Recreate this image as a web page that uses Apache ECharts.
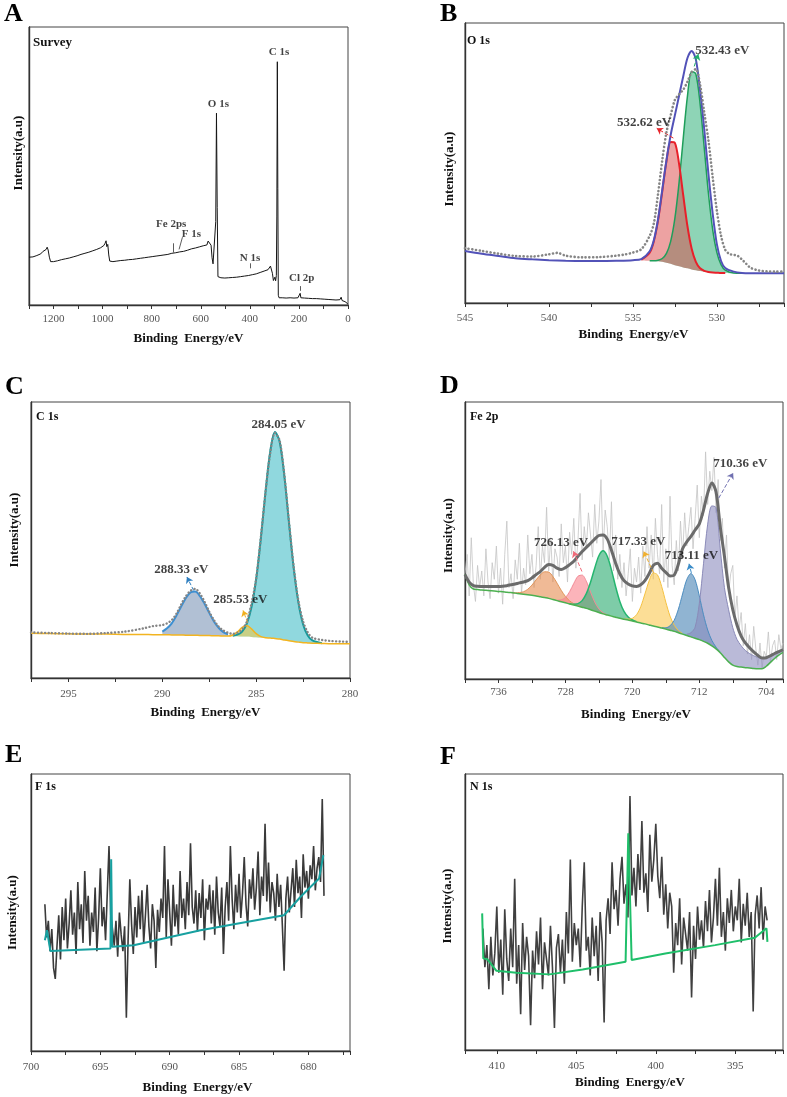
<!DOCTYPE html>
<html>
<head>
<meta charset="utf-8">
<title>XPS spectra</title>
<script src="https://cdn.jsdelivr.net/npm/echarts@6.0.0/dist/echarts.min.js"></script>
<style>
html,body{margin:0;padding:0;background:#ffffff;}
#chart{width:787px;height:1097px;}
</style>
</head>
<body>
<div id="chart"></div>
<script>
// ================= DATA =================
// ---- Panel A : survey (binding energy eV, intensity) ----
const surveyPts = [[1300,17.2],[1292,17.6],[1284,17.3],[1276,18.0],[1268,17.8],[1260,18.5],[1252,18.4],[1244,19.2],[1236,19.5],[1230,20.0],[1226,20.8],[1222,19.8],[1217,17.2],[1212,15.6],[1206,15.0],[1200,15.6],[1192,15.3],[1184,15.9],[1176,15.7],[1168,16.3],[1160,16.1],[1152,16.6],[1144,16.5],[1136,16.9],[1128,17.0],[1120,17.3],[1112,17.2],[1104,17.7],[1096,17.8],[1088,18.2],[1080,18.1],[1072,18.6],[1064,18.7],[1056,19.0],[1048,19.1],[1040,19.5],[1032,19.6],[1024,20.0],[1016,20.2],[1008,20.6],[1000,20.9],[995,21.4],[990,22.2],[986,23.1],[983,21.0],[979,21.8],[975,18.0],[971,15.8],[966,15.3],[958,15.6],[950,15.4],[942,15.8],[934,15.6],[926,16.0],[918,15.8],[910,16.1],[902,16.0],[894,16.3],[886,16.1],[878,16.4],[870,16.3],[862,16.6],[854,16.5],[846,16.8],[838,16.7],[830,17.0],[822,16.9],[814,17.2],[806,17.1],[798,17.4],[790,17.3],[782,17.6],[774,17.5],[766,17.8],[758,17.7],[750,18.0],[742,17.9],[734,18.2],[726,18.3],[718,18.6],[710,18.5],[702,18.8],[694,18.7],[686,19.1],[678,19.0],[670,19.3],[662,19.4],[654,19.7],[646,19.9],[638,20.2],[630,20.1],[622,20.5],[614,20.6],[606,20.9],[598,20.8],[590,21.3],[582,21.1],[575,21.6],[570,23.0],[566,22.4],[562,23.6],[558,21.5],[554,17.0],[550,14.8],[546,14.2],[542,14.6],[539,30],[536,69],[533,35],[530,10.2],[525,9.6],[518,9.8],[510,9.4],[502,9.7],[494,9.5],[486,9.8],[478,9.6],[470,9.9],[462,9.7],[454,10.0],[446,9.9],[438,10.2],[430,10.1],[422,10.4],[414,10.3],[406,10.6],[398,10.6],[390,10.9],[382,11.0],[374,11.2],[366,11.4],[358,11.7],[350,11.9],[342,12.2],[334,12.4],[326,12.7],[320,13.2],[316,14.0],[312,13.6],[308,11.4],[304,8.8],[301,8.2],[298,10.0],[295,8.7],[292,10.6],[290,32],[288,87.5],[286,42],[284,3.5],[281,2.6],[275,2.4],[268,2.6],[260,2.3],[252,2.5],[244,2.4],[236,2.6],[228,2.3],[220,2.5],[212,2.4],[204,2.6],[198,3.0],[195,4.2],[192,2.6],[185,2.4],[177,2.5],[169,2.3],[161,2.4],[153,2.2],[145,2.3],[137,2.1],[129,2.3],[121,2.1],[113,2.2],[105,2.0],[97,2.1],[89,1.9],[81,2.0],[73,1.8],[65,1.9],[57,1.7],[49,1.8],[41,1.6],[33,1.9],[28,2.8],[24,1.6],[18,1.9],[12,1.2],[7,0.9],[3,0.6],[0,0.3]];
const surveyMarks = [['O 1s',528.2,72.3],['C 1s',280.9,91],['Fe 2ps',720.4,29.1],['F 1s',638.6,25.5],['N 1s',399.4,16.9],['Cl 2p',188.9,9.7]];
const surveyPointers = [[713,18.9,713,22.2],[688.4,20.0,674.6,24.4],[399.4,13.2,399.4,15.0],[195,5.1,195,6.8]];

// ---- Panel B : O 1s ----
const bX = [545,544,543,542,541,540,539,538,537,536,535,534.5,534,533.75,533.5,533.25,533,532.75,532.5,532.25,532,531.75,531.5,531.25,531,530.75,530.5,530.25,530,529.75,529.5,529,528.5,528,527,526];
const bBase = [18.6,17.6,16.8,16.0,15.6,15.3,15.1,15.0,15.0,15.0,15.1,15.2,15.1,15.0,14.9,14.7,14.4,14.0,13.5,13.1,12.7,12.4,12.0,11.7,11.4,11.2,11.0,10.9,10.8,10.7,10.7,10.6,10.6,10.6,10.6,10.6];
const bRed = [null,null,null,null,null,null,null,null,null,null,null,0.3,2.9,7.1,14.7,25.2,36.3,43.5,43.7,36.6,25.7,15.0,7.4,3.0,1.0,0.3,0.1,0,0,0,0,null,null,null,null,null];
const bGreen = [null,null,null,null,null,null,null,null,null,null,null,null,0,0.1,0.4,1.2,3.3,8.0,16.7,29.9,46.2,61.5,70.7,70.1,59.9,44.2,28.1,15.4,7.3,3.0,1.0,0.1,0,null,null,null];
const bEnv = [18.6,17.6,16.8,16.0,15.6,15.3,15.1,15.0,15.0,15.1,15.3,15.7,18.5,22.5,30,40.5,51,60,67,74,81,87.5,90,87,76,62,46,32,21,15,12.5,11.2,10.7,10.6,10.6,10.6];
const bRawX = [545,544,543,542,541,540,539.5,539,538,537,536,535.5,535,534.5,534,533.75,533.5,533.25,533,532.75,532.5,532.25,532,531.75,531.5,531.25,531,530.75,530.5,530.25,530,529.75,529.5,529.25,529,528.75,528.5,528.25,528,527.5,527,526.5,526];
const bRaw = [19.6,18.6,17.6,16.8,16.6,17.4,17.9,16.9,16.3,16.4,16.9,17.3,18.0,19.2,24.0,28.5,39,51,61,67,72.5,74.5,76.2,79,82.5,83.5,78,68,58,45,33,24,19,17.5,17.2,16.8,15.5,14.0,12.6,11.6,11.3,11.2,11.2];
const bLabels = [['532.43 eV',529.68,90.1],['532.62 eV',534.33,64.4]];
const bArrows = [[531.35,84.5,531.1,88.9,'#1fae6a'],[532.59,58.9,533.58,62.4,'#e8262c']];

// ---- Panel C : C 1s ----
const cX = [297,296,295,294,293,292,291,290.5,290,289.75,289.5,289.25,289,288.75,288.5,288.25,288,287.75,287.5,287.25,287,286.75,286.5,286.25,286,285.75,285.5,285.25,285,284.75,284.5,284.25,284,283.75,283.5,283.25,283,282.75,282.5,282.25,282,281.5,281,280.5,280];
const cBase = [16.2,16.1,16.0,15.9,15.9,15.8,15.8,15.7,15.7,15.7,15.6,15.6,15.6,15.5,15.5,15.5,15.4,15.4,15.4,15.3,15.3,15.2,15.2,15.1,15.1,15.0,15.0,14.9,14.8,14.7,14.6,14.5,14.3,14.1,13.8,13.5,13.2,13.0,12.8,12.7,12.6,12.5,12.4,12.4,12.4];
const cBlue = [null,null,null,null,null,null,null,null,1.1,2.3,4.2,7.0,10.3,13.4,15.5,15.8,14.3,11.5,8.2,5.2,2.9,1.4,0.6,null,null,null,null,null,null,null,null,null,null,null,null,null,null,null,null,null,null,null,null,null,null];
const cTeal = [null,null,null,null,null,null,null,null,null,null,null,null,null,null,null,null,null,null,null,null,null,null,null,0.2,0.6,1.8,4.7,10.8,21.1,36.0,53.0,67.6,74.8,71.6,59.5,42.7,26.6,14.4,6.7,2.7,1.0,0.1,null,null,null];
const cYellow = [0,0,0,0,0,0,0,0,0,0,0,0,0,0,0,0,0,0,0,0,0,0,0,0.5,1.6,3.3,4.0,2.9,1.3,0.3,0,0,0,0,0,0,0,0,0,0,0,0,0,0,0];
const cRaw = [16.5,16.3,16.1,16.0,16.3,16.8,18.0,18.8,19.2,19.8,21.0,23.3,26.6,29.6,31.6,32.3,30.6,27.6,24.0,21.0,18.6,17.2,16.4,16.0,16.4,17.6,20.4,27.0,36.0,51.0,67.5,81.5,88.8,86.0,73.6,56.5,40.2,28.0,20.5,16.5,14.6,13.8,13.4,13.2,13.1];
const cLabels = [['284.05 eV',283.81,91.8],['288.33 eV',288.99,39.2],['285.53 eV',285.84,28.4]];
const cArrows = [[288.33,31.7,288.69,36.6,'#2f7fc0'],[285.45,19.9,285.7,24.5,'#f0b020']];

// ---- Panel D : Fe 2p (0.5 eV grid starting at 740 eV) ----
const dStart = 740, dStep = 0.5;
const dBase = [37.7,34.0,32.5,32.3,32.1,32.0,31.9,31.8,31.6,31.5,31.3,31.2,31.0,30.8,30.6,30.4,30.2,30.0,29.7,29.4,29.1,28.7,28.3,27.9,27.5,27.1,26.7,26.3,25.9,25.5,25.0,24.5,24.0,23.5,23.1,22.7,22.3,21.9,21.6,21.3,20.9,20.6,20.2,19.9,19.5,19.1,18.8,18.4,18.0,17.6,17.2,16.7,16.2,15.7,15.2,14.7,14.2,13.6,12.9,12.0,10.9,9.5,7.8,6.2,5.0,4.5,4.3,4.1,4.0,3.8,3.7,3.7,4.6,6.0,7.4,8.6,9.6];
const dEnv = [37.7,35.0,33.7,33.5,33.4,33.4,33.4,33.4,33.4,33.5,33.7,34.0,34.3,34.7,35.0,35.5,36.5,37.7,38.8,40.3,41.3,41.0,40.0,39.5,40.2,41.3,42.5,44.3,46.0,47.5,49.0,50.5,51.8,52.0,50.5,46.5,41.8,38.0,35.5,34.3,33.6,33.4,34.0,35.5,38.0,41.0,41.8,40.0,38.5,37.2,37.5,41.5,47.0,49.5,51.5,53.8,56.0,61.0,67.1,70.8,67.5,55.0,44.3,33.0,25.0,19.5,15.5,13.0,11.3,9.8,8.5,7.6,7.7,8.4,9.2,9.9,10.6];
const dOrangeFrom = 734.5, dOrange = [0,0.1,0.4,0.9,2.0,3.7,5.8,7.9,9.3,9.5,8.3,6.3,4.1,2.3,1.1,0.5,0.2,0.1];
const dPinkFrom = 729, dPink = [0.2,0.7,1.9,4.4,7.8,10.8,11.6,9.8,6.4,3.3,1.3,0.4,0.1];
const dGreenFrom = 727.5, dGreen = [0.1,0.3,0.9,2.4,5.3,9.9,15.5,20.5,22.8,21.2,16.7,11.0,6.1,2.8,1.1,0.4,0.1];
const dYellowFrom = 721, dYellow = [0.1,0.3,1.0,2.6,5.9,10.8,15.9,19.2,18.8,15.0,9.7,5.1,2.2,0.8,0.2];
const dBlueFrom = 716.5, dBlue = [0.1,0.5,1.6,4.0,8.5,14.5,20.2,22.9,21.1,15.8,9.6,4.8,1.9,0.6,0.2];
const dPurpleFrom = 713.5, dPurple = [0.5,1.5,4,13,28,43,50.5,51,37.5,25.2,18.8,13.5,9.8,7.7,6.2,5.2,4.6,4.1,3.8,3.2,2.4,1.6,1.0,0.6];
// raw counts, 0.25 eV grid from 740 eV
const dRawStep = 0.25;
const dRaw = [38,45,30,51, 34,28,41,33, 39,30,47,35, 29,42,36,48, 31,40,27,45, 57,33,38,29, 43,36,49,31, 40,34,52,38, 45,33,41,55, 36,48,42,62, 39,51,35,47, 44,37,56,42, 48,35,53,45, 58,40,50,67, 43,55,47,60, 52,44,63,49, 57,72,46,61, 55,43,64,39, 52,36,45,33, 42,30,38,47, 28,40,35,44, 31,48,37,55, 40,52,36,58, 45,38,63,35, 47,33,66,41, 34,50,39,57, 44,60,48,55, 62,47,58,70, 51,66,59,82, 63,75,68,80, 60,72,50,58, 40,52,31,38, 41,22,30,18, 24,12,20,9, 16,7,19,11, 5,13,4,10, 8,17,6,12, 14,7,16,11, 13];
const dLabels = [['726.13 eV',728.51,49.2],['717.33 eV',719.3,49.6],['713.11 eV',712.95,44.5],['710.36 eV',707.09,77.7]];
const dArrows = [[726.03,38.8,727.04,46.1,'#f06a78'],[717.46,38.3,718.66,46.1,'#f0b030'],[712.95,38.3,713.23,41.6,'#3a8cc8'],[709.68,65.3,707.96,74.4,'#7070b0']];

// ---- Panel E : F 1s (0.125 eV grid from 699 eV) ----
const eStart = 699.0, eStep = 0.125;
const eI = [53,41,47,36,44,30,26,38, 49,33,52,40,55,37,46,58, 42,50,35,61,44,53,39,65, 47,56,38,50,43,59,36,48, 66,45,52,40,57,74,49,44, 38,47,34,50,42,36,45,12, 40,62,46,35,52,41,56,44, 58,39,49,60,45,37,53,47, 30,51,43,55,48,74,41,62, 50,38,60,45,53,42,65,48, 55,44,61,49,75,52,46,58, 43,57,48,62,40,55,51,60, 46,58,42,63,50,45,59,35, 52,61,47,74,55,44,60,50, 64,48,57,70,53,45,62,55, 66,51,59,72,49,63,56,82, 54,68,50,61,57,47,64,52, 60,45,29,55,63,50,58,66, 52,69,57,63,48,71,59,65, 55,67,62,74,58,66,70,61, 91,56];
const eBase = [[699.0,40],[698.85,43.6],[698.6,36.1],[694.27,37.0],[694.22,69.2],[694.15,37.6],[692.6,38.2],[687.78,43.6],[681.76,49.0],[680.56,55.7],[679.23,62.3],[678.92,70.7]];

// ---- Panel F : N 1s (0.125 eV grid from 410.875 eV) ----
const fStart = 410.875, fStep = 0.125;
const fI = [44,30,38,22,41,27,35,52, 28,40,20,51,33,25,44,30, 62,24,38,13,46,29,41,34, 9,36,26,43,31,48,22,39, 33,27,45,30,8,37,42,28, 40,24,50,35,69,32,46,38, 44,30,52,68,36,41,27,48, 34,45,25,50,39,10,47,55, 42,68,51,58,45,62,70,53, 60,48,92,56,66,52,71,58, 83,57,64,50,78,61,69,82, 63,55,70,49,60,44,57,52, 28,46,38,55,31,48,42,36, 50,19,45,33,52,40,47,37, 54,43,58,39,48,62,45,66, 41,50,36,55,46,58,43,52, 47,62,39,53,45,57,41,50, 14,49,56,44,59,40,52,47];
const fBase = [[410.92,49.5],[410.85,33.2],[410.6,32.9],[410.02,28.7],[408.77,28.0],[406.69,27.4],[404.6,29.2],[401.9,32.0],[401.73,78.5],[401.52,32.6],[399.4,35.0],[396.27,38.0],[393.77,40.7],[393.04,44.1],[392.98,39.2]];

// ================= CHART =================
const serif = '"Liberation Serif", "Times New Roman", Times, serif';
const zip = (xs, ys) => xs.map((x, i) => [x, ys[i]]);
const gridX = (start, step, n) => Array.from({length: n}, (_, i) => +(start - step * i).toFixed(4));
const dX = gridX(dStart, dStep, dBase.length);
function onDGrid(from, vals) {
  const arr = new Array(dX.length).fill(null);
  const off = Math.round((dStart - from) / dStep);
  vals.forEach((v, i) => { arr[off + i] = v; });
  return arr;
}
function isMult(v, s) { const r = v / s; return Math.abs(r - Math.round(r)) < 1e-6; }

// fitted component drawn as a filled band between the baseline and baseline + component
// (data stored as [intensity, energy] so that the stack runs along the intensity dimension)
function stackPair(gi, key, xs, base, comp, color, fill, lw) {
  const b = [], c = [];
  xs.forEach((x, i) => { if (comp[i] != null) { b.push([base[i], x]); c.push([comp[i], x]); } });
  const common = {type: 'line', xAxisIndex: gi, yAxisIndex: gi, stack: key, stackStrategy: 'all', encode: {x: 1, y: 0},
    symbol: 'none', smooth: 0.3, silent: true, z: 2};
  return [
    Object.assign({}, common, {data: b, lineStyle: {width: 0, opacity: 0}}),
    Object.assign({}, common, {data: c, lineStyle: {color: color, width: lw}, areaStyle: {color: fill, opacity: 1}})
  ];
}
function labelSeries(gi, labels, size, arrows, head) {
  return {
    type: 'scatter', xAxisIndex: gi, yAxisIndex: gi, symbolSize: 0, silent: true, z: 10,
    data: labels.map(l => ({name: l[0], value: [l[1], l[2]]})),
    label: {show: true, position: 'inside', formatter: '{b}', fontFamily: serif, fontWeight: 'bold', fontSize: size, color: '#111'},
    markLine: {
      silent: true, animation: false, symbol: head ? ['none', 'arrow'] : ['none', 'none'], symbolSize: 6,
      label: {show: false},
      data: arrows.map(a => [{coord: [a[0], a[1]], lineStyle: {color: a[4] || '#333', width: head ? 1 : 0.8, type: head ? 'dashed' : 'solid'}}, {coord: [a[2], a[3]]}])
    }
  };
}

const grids = [
  {left: 29, top: 27, width: 319, height: 278},
  {left: 465, top: 23, width: 319, height: 280},
  {left: 31, top: 402, width: 319, height: 276},
  {left: 465, top: 402, width: 318, height: 277},
  {left: 31, top: 774, width: 319, height: 277},
  {left: 465, top: 774, width: 318, height: 276}
].map(g => Object.assign(g, {show: true, borderColor: '#444', borderWidth: 1, backgroundColor: 'transparent'}));

// [min, max, tickStep, labelStep, labelMargin, nameGap, nameShift]
const xSpec = [
  [0, 1300, 100, 200, 9, 27, 0],
  [526, 545, 2.5, 5, 10, 25, 18],
  [280, 297, 2.5, 5, 11, 28, 30],
  [702, 740, 4, 8, 8, 29, 24],
  [677, 700, 2.5, 5, 11, 30, 14],
  [392, 412, 2.5, 5, 11, 26, 12]
];
const xAxes = xSpec.map((s, gi) => ({
  type: 'value', gridIndex: gi, inverse: true, min: s[0], max: s[1], minInterval: s[2], maxInterval: s[2],
  axisLine: {show: true, onZero: false, lineStyle: {color: '#333', width: 1.4}},
  axisTick: {show: true, inside: false, length: 4, lineStyle: {color: '#333', width: 1}},
  splitLine: {show: false},
  axisLabel: {margin: s[4], fontFamily: serif, fontSize: 11, color: '#555', showMinLabel: true, showMaxLabel: true,
    formatter: v => isMult(v, s[3]) ? String(v) : ''},
  name: 'Binding  Energy/eV', nameLocation: 'middle', nameGap: s[5],
  nameTextStyle: {fontFamily: serif, fontWeight: 'bold', fontSize: 13, color: '#111', padding: [0, 0, 0, s[6]]}
}));
// [nameGap, padding]
const ySpec = [[4, [0, 0, 0, 26]], [9, [0, 12, 0, 0]], [10, [0, 0, 0, 20]], [10, [0, 0, 0, 10]], [12, [0, 0, 0, 0]], [11, [0, 0, 0, 12]]];
const yAxes = ySpec.map((s, gi) => ({
  type: 'value', gridIndex: gi, min: 0, max: 100,
  axisLine: {show: true, onZero: false, lineStyle: {color: '#333', width: 1.4}},
  axisTick: {show: false}, axisLabel: {show: false}, splitLine: {show: false},
  name: 'Intensity(a.u)', nameLocation: 'middle', nameGap: s[0],
  nameTextStyle: {fontFamily: serif, fontWeight: 'bold', fontSize: 13, color: '#111', padding: s[1]}
}));

const S = [];
// A
S.push({type: 'line', xAxisIndex: 0, yAxisIndex: 0, data: surveyPts, symbol: 'none', lineStyle: {color: '#151515', width: 1}, z: 3, silent: true});
S.push(labelSeries(0, surveyMarks, 11, surveyPointers, false));
// B
S.push(...stackPair(1, 'Bg', bX, bBase, bGreen, '#1f9e5a', 'rgba(30,170,110,0.5)', 1.5));
S.push(...stackPair(1, 'Br', bX, bBase, bRed, '#e8202a', 'rgba(220,70,70,0.5)', 2));
S.push({type: 'line', xAxisIndex: 1, yAxisIndex: 1, data: zip(bX, bEnv), symbol: 'none', smooth: 0.3, lineStyle: {color: '#5252b8', width: 2}, z: 4, silent: true});
S.push({type: 'line', xAxisIndex: 1, yAxisIndex: 1, data: zip(bRawX, bRaw), symbol: 'none', smooth: 0.3, lineStyle: {color: '#858585', width: 2.6, type: [0.1, 3.6], cap: 'round'}, z: 5, silent: true});
S.push(labelSeries(1, bLabels, 13, bArrows, true));
// C
S.push(...stackPair(2, 'Cb', cX, cBase, cBlue, '#3d8fd1', 'rgba(100,130,170,0.5)', 2));
S.push(...stackPair(2, 'Ct', cX, cBase, cTeal, '#139a9c', 'rgba(70,190,200,0.6)', 2));
S.push(...stackPair(2, 'Cy', cX, cBase, cYellow, '#f2b420', 'rgba(245,200,60,0.55)', 1.5));
S.push({type: 'line', xAxisIndex: 2, yAxisIndex: 2, data: zip(cX, cRaw), symbol: 'none', smooth: 0.3, lineStyle: {color: '#858585', width: 2.4, type: [0.1, 3.4], cap: 'round'}, z: 5, silent: true});
S.push(labelSeries(2, cLabels, 13, cArrows, true));
// D
S.push({type: 'line', xAxisIndex: 3, yAxisIndex: 3, data: zip(gridX(dStart, dRawStep, dRaw.length), dRaw), symbol: 'none', lineStyle: {color: '#c4c4c4', width: 0.8}, z: 1, silent: true});
S.push(...stackPair(3, 'Do', dX, dBase, onDGrid(dOrangeFrom, dOrange), '#e0955a', 'rgba(230,140,80,0.6)', 1));
S.push(...stackPair(3, 'Dp', dX, dBase, onDGrid(dPinkFrom, dPink), '#f28a96', 'rgba(250,130,140,0.6)', 1));
S.push(...stackPair(3, 'Dg', dX, dBase, onDGrid(dGreenFrom, dGreen), '#25b56f', 'rgba(40,170,110,0.6)', 1.5));
S.push(...stackPair(3, 'Dy', dX, dBase, onDGrid(dYellowFrom, dYellow), '#f5c242', 'rgba(250,200,80,0.6)', 1));
S.push(...stackPair(3, 'Db', dX, dBase, onDGrid(dBlueFrom, dBlue), '#4a8cc0', 'rgba(70,130,180,0.6)', 1));
S.push(...stackPair(3, 'Du', dX, dBase, onDGrid(dPurpleFrom, dPurple), '#8a8ab8', 'rgba(140,140,190,0.6)', 1));
S.push({type: 'line', xAxisIndex: 3, yAxisIndex: 3, data: zip(dX, dBase), symbol: 'none', smooth: 0.3, lineStyle: {color: '#4cb050', width: 1.5}, z: 3, silent: true});
S.push({type: 'line', xAxisIndex: 3, yAxisIndex: 3, data: zip(dX, dEnv), symbol: 'none', smooth: 0.3, lineStyle: {color: '#6b6b6b', width: 3}, z: 4, silent: true});
S.push(labelSeries(3, dLabels, 13, dArrows, true));
// E
S.push({type: 'line', xAxisIndex: 4, yAxisIndex: 4, data: zip(gridX(eStart, eStep, eI.length), eI), symbol: 'none', lineStyle: {color: '#3a3a3a', width: 1.6}, z: 3, silent: true});
S.push({type: 'line', xAxisIndex: 4, yAxisIndex: 4, data: eBase, symbol: 'none', lineStyle: {color: '#17a0a0', width: 2}, z: 4, silent: true});
// F
S.push({type: 'line', xAxisIndex: 5, yAxisIndex: 5, data: zip(gridX(fStart, fStep, fI.length), fI), symbol: 'none', lineStyle: {color: '#404040', width: 1.6}, z: 3, silent: true});
S.push({type: 'line', xAxisIndex: 5, yAxisIndex: 5, data: fBase, symbol: 'none', lineStyle: {color: '#1fbf6a', width: 2}, z: 4, silent: true});

const letterStyle = {fontFamily: serif, fontWeight: 'bold', fontSize: 26, color: '#000'};
const nameStyle = {fontFamily: serif, fontWeight: 'bold', fontSize: 12, color: '#111'};
const titles = [
  {text: 'A', left: 4, top: 1, textStyle: letterStyle},
  {text: 'B', left: 440, top: 1, textStyle: letterStyle},
  {text: 'C', left: 5, top: 374, textStyle: letterStyle},
  {text: 'D', left: 440, top: 373, textStyle: letterStyle},
  {text: 'E', left: 5, top: 742, textStyle: letterStyle},
  {text: 'F', left: 440, top: 744, textStyle: letterStyle},
  {text: 'Survey', left: 33, top: 36, textStyle: Object.assign({}, nameStyle, {fontSize: 13})},
  {text: 'O 1s', left: 467, top: 35, textStyle: nameStyle},
  {text: 'C 1s', left: 36, top: 411, textStyle: nameStyle},
  {text: 'Fe 2p', left: 470, top: 411, textStyle: nameStyle},
  {text: 'F 1s', left: 35, top: 781, textStyle: nameStyle},
  {text: 'N 1s', left: 470, top: 781, textStyle: nameStyle}
].map(t => Object.assign(t, {padding: 0}));

const chart = echarts.init(document.getElementById('chart'), null, {renderer: 'canvas'});
chart.setOption({
  animation: false,
  backgroundColor: '#ffffff',
  textStyle: {fontFamily: serif},
  title: titles,
  grid: grids,
  xAxis: xAxes,
  yAxis: yAxes,
  series: S
});
</script>
</body>
</html>
